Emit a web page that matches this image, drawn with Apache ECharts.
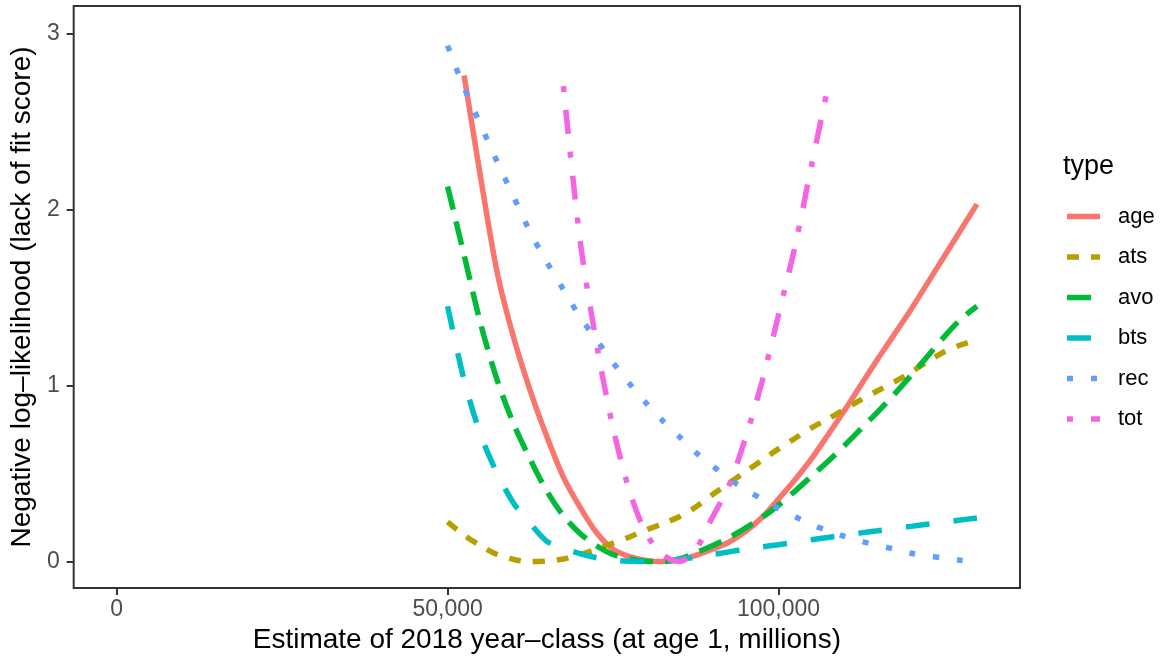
<!DOCTYPE html>
<html>
<head>
<meta charset="utf-8">
<script src="https://cdn.jsdelivr.net/npm/echarts@6/dist/echarts.min.js"></script>
<style>
html,body{margin:0;padding:0;background:#fff;}
#chart{width:1164px;height:661px;}
</style>
</head>
<body>
<div id="chart"></div>
<script>
// ---- data ----
const xGrid = [50000, 52500, 55000, 57500, 60000, 62500, 65000, 67500, 70000, 72500,
  75000, 77500, 80000, 82500, 85000, 87500, 90000, 92500, 95000, 97500,
  100000, 102500, 105000, 107500, 110000, 112500, 115000, 117500, 120000, 122500,
  125000, 127500, 130000];

const seriesNames = ['age', 'ats', 'avo', 'bts', 'rec', 'tot'];

const age = [null, 2.76, 2.18, 1.64, 1.27, 0.97, 0.71, 0.48, 0.31, 0.165,
  0.07, 0.028, 0.007, 0.0, 0.01, 0.035, 0.07, 0.11, 0.17, 0.25,
  0.355, 0.465, 0.585, 0.72, 0.86, 1.005, 1.15, 1.29, 1.43, 1.58,
  1.73, 1.88, 2.03];

const ats = [0.225, 0.15, 0.09, 0.04, 0.012, 0.0, 0.003, 0.015, 0.04, 0.07,
  0.105, 0.14, 0.18, 0.215, 0.255, 0.31, 0.38, 0.445, 0.51, 0.575,
  0.64, 0.70, 0.76, 0.81, 0.865, 0.92, 0.97, 1.02, 1.075, 1.135,
  1.19, 1.23, 1.26];

const avo = [2.13, 1.74, 1.35, 1.03, 0.78, 0.58, 0.40, 0.26, 0.16, 0.09,
  0.04, 0.015, 0.002, 0.0, 0.015, 0.05, 0.09, 0.135, 0.19, 0.25,
  0.32, 0.40, 0.485, 0.57, 0.66, 0.755, 0.85, 0.95, 1.055, 1.165,
  1.275, 1.375, 1.45];

const bts = [1.45, 1.03, 0.72, 0.50, 0.33, 0.215, 0.115, 0.075, 0.045, 0.022,
  0.008, 0.002, 0.0, 0.003, 0.012, 0.025, 0.04, 0.055, 0.07, 0.083,
  0.096, 0.11, 0.124, 0.137, 0.15, 0.163, 0.175, 0.188, 0.2, 0.212,
  0.224, 0.236, 0.248];

const rec = [2.93, 2.69, 2.48, 2.27, 2.07, 1.87, 1.70, 1.545, 1.39, 1.26,
  1.13, 1.01, 0.90, 0.80, 0.71, 0.62, 0.545, 0.47, 0.41, 0.355,
  0.30, 0.255, 0.21, 0.175, 0.143, 0.115, 0.093, 0.07, 0.047, 0.033,
  0.02, 0.008, 0.0];

const tot = [null, null, null, null, null, null, null, 2.70, 1.83, 1.24,
  0.76, 0.40, 0.16, 0.04, 0.0, 0.07, 0.25, 0.43, 0.70, 1.02,
  1.40, 1.79, 2.25, 2.70, null, null, null, null, null, null,
  null, null, null];

const xTicks = [0, 50000, 100000];
const yTicks = [0, 1, 2, 3];

const xTitle = 'Estimate of 2018 year\u2013class (at age 1, millions)';
const yTitle = 'Negative log\u2013likelihood (lack of fit score)';
const legendTitle = 'type';

// ---- styles ----
const colors = ['#F8766D', '#B79F00', '#00BA38', '#00BFC4', '#619CFF', '#F564E3'];
const u = 6;
const dashes = ['solid', [2*u, 2*u], [4*u, 2*u], [4*u, 4*u], [1*u, 3*u], [1*u, 3*u, 4*u, 3*u]];
const values = [age, ats, avo, bts, rec, tot];
const FONT = '"Liberation Sans", Arial, Helvetica, sans-serif';
const LW = 5.5;

const chart = echarts.init(document.getElementById('chart'), null, {renderer: 'canvas'});

const series = seriesNames.map((name, i) => ({
  name: name,
  type: 'line',
  data: xGrid.map((x, j) => [x, values[i][j]]),
  showSymbol: false,
  symbol: 'none',
  smooth: 0.3,
  connectNulls: false,
  animation: false,
  lineStyle: {color: colors[i], width: LW, type: dashes[i], cap: 'butt'},
  itemStyle: {color: colors[i]},
  z: 2 + i
}));

// manual ggplot-style legend
const legendGraphics = [{
  type: 'text', left: 1063, top: 153,
  style: {text: legendTitle, font: '27px ' + FONT, fill: '#000000'}
}];
seriesNames.forEach((name, i) => {
  const cy = 216.5 + i * 40.5;
  legendGraphics.push({
    type: 'line',
    shape: {x1: 1067, y1: cy, x2: 1100, y2: cy},
    style: {stroke: colors[i], lineWidth: LW, lineDash: dashes[i] === 'solid' ? null : dashes[i], lineCap: 'butt'}
  });
  legendGraphics.push({
    type: 'text', x: 1118, y: cy,
    style: {text: name, font: '22px ' + FONT, fill: '#000000', verticalAlign: 'middle', align: 'left'}
  });
});

chart.setOption({
  animation: false,
  backgroundColor: '#ffffff',
  grid: {left: 71, right: 144, top: 6, bottom: 73, show: true, borderColor: '#333333', borderWidth: 2, backgroundColor: 'transparent', containLabel: false},
  xAxis: {
    type: 'value', min: -6500, max: 136500,
    name: xTitle, nameLocation: 'middle', nameGap: 34,
    nameTextStyle: {fontFamily: FONT, fontSize: 28, color: '#000000'},
    axisLine: {show: false, onZero: false},
    splitLine: {show: false},
    axisTick: {show: true, length: 7, lineStyle: {color: '#333333', width: 2}, customValues: xTicks},
    axisLabel: {show: true, margin: 10, fontFamily: FONT, fontSize: 23, color: '#4D4D4D', customValues: xTicks,
      formatter: v => Number(v).toLocaleString('en-US')}
  },
  yAxis: {
    type: 'value', min: -0.15, max: 3.155,
    name: yTitle, nameLocation: 'middle', nameGap: 30, nameRotate: 90,
    nameTextStyle: {fontFamily: FONT, fontSize: 28, color: '#000000'},
    axisLine: {show: false, onZero: false},
    splitLine: {show: false},
    axisTick: {show: true, length: 7, lineStyle: {color: '#333333', width: 2}, customValues: yTicks},
    axisLabel: {show: true, margin: 14, fontFamily: FONT, fontSize: 23, color: '#4D4D4D', customValues: yTicks}
  },
  graphic: legendGraphics,
  series: series
});
</script>
</body>
</html>
